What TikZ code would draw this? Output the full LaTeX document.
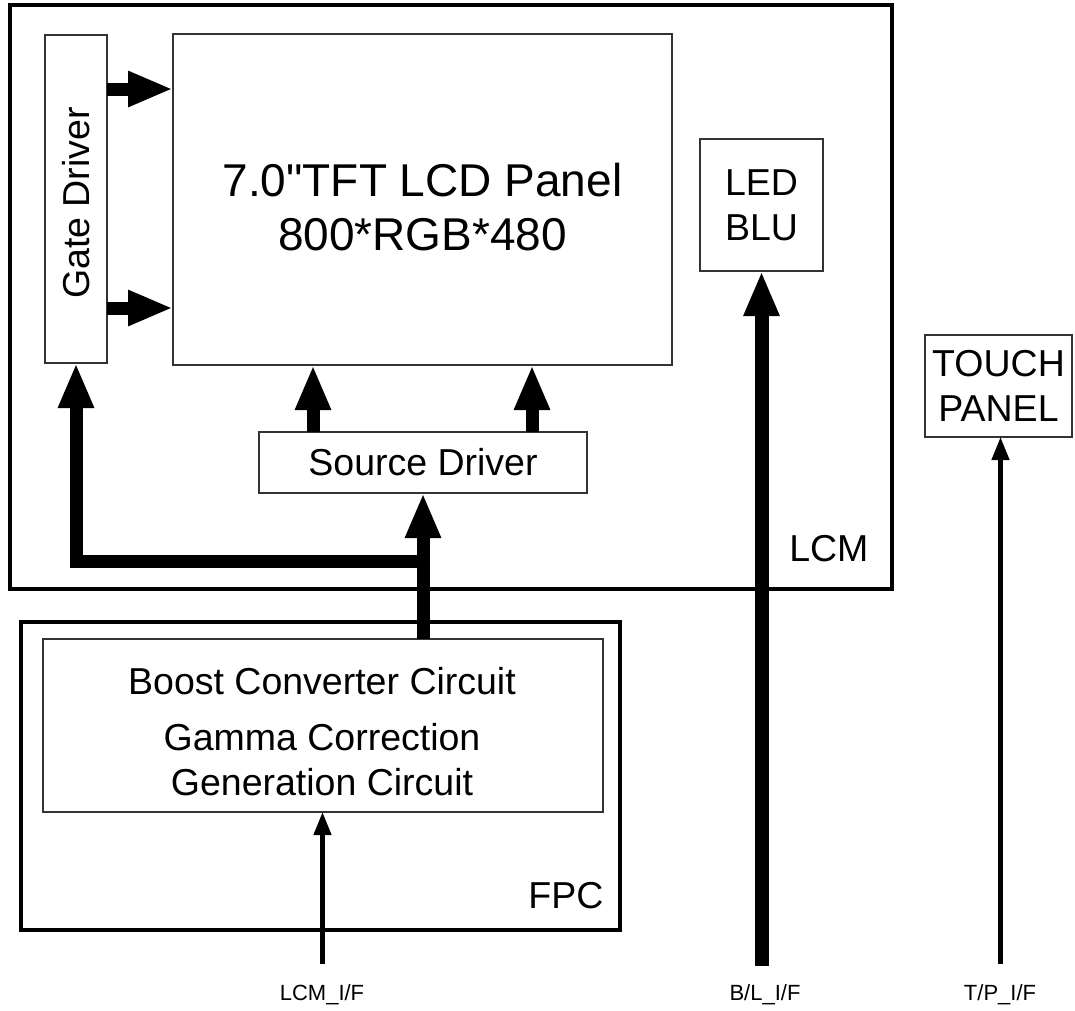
\documentclass[tikz,border=0pt]{standalone}
\usepackage{fontspec}
\setmainfont{Liberation Sans}[Ligatures=TeXOff]
\usetikzlibrary{arrows.meta,calc}
\begin{document}
\begin{tikzpicture}[x=1pt,y=-1pt,
  outerbox/.style={draw=black,line width=3.2pt},
  innerbox/.style={draw=black!80,line width=1.4pt,inner sep=0pt,outer sep=0pt},
  bigarrow/.style={line width=13pt,-{Triangle[length=45pt,width=33pt]}},
  thinarrow/.style={line width=4.5pt,-{Triangle[length=23pt,width=17pt]}},
  bigtext/.style={font=\fontsize{46}{54}\selectfont,align=center},
  midtext/.style={font=\fontsize{37.5}{45}\selectfont,align=center},
  smalltext/.style={font=\fontsize{22}{26}\selectfont}
]
\useasboundingbox (0,0) rectangle (1075,1010);
\fill[white] (0,0) rectangle (1075,1010);

% outer frames
\draw[outerbox] (10,5) rectangle (892,589);
\draw[outerbox] (21,622) rectangle (620,930);
\node[midtext,anchor=east] (lcmlab) at (872,549) {LCM};
\node[midtext,anchor=east] (fpclab) at (607,896) {FPC};

% boxes
\node[innerbox,minimum width=62pt,minimum height=328pt] (gd) at (76,199) {};
\node[midtext,rotate=90] (gdtext) at (76,203) {Gate Driver};
\node[innerbox,minimum width=499pt,minimum height=331pt] (panel) at (422.5,199.5) {};
\node[bigtext] (paneltext) at (422.5,207) {7.0"TFT LCD Panel\\800*RGB*480};
\node[innerbox,midtext,minimum width=328pt,minimum height=61pt] (sd) at (423,462.5) {Source Driver};
\node[innerbox,midtext,minimum width=123pt,minimum height=132pt] (blu) at (761.5,205) {LED\\BLU};
\node[innerbox,midtext,minimum width=147pt,minimum height=102pt] (tp) at (998.5,386) {TOUCH\\PANEL};
\node[innerbox,minimum width=560pt,minimum height=173pt] (boost) at (323,725.5) {};
\node[midtext] (boosttext) at (322,732) {Boost Converter Circuit\\[11pt]Gamma Correction\\Generation Circuit};

% interface labels
\node[smalltext] (lcmif) at (322,995) {LCM\_I/F};
\node[smalltext] (blif) at (765,995) {B/L\_I/F};
\node[smalltext] (tpif) at (1000,995) {T/P\_I/F};
\coordinate (lcmbot) at (322.5,964);
\coordinate (blbot) at (761.5,966);
\coordinate (tpbot) at (1000.5,964);
\coordinate (jn) at (423,561);

% gate driver -> panel
\draw[bigarrow] (gd.east |- 0,89) -- (panel.west |- 0,89);
\draw[bigarrow] (gd.east |- 0,308) -- (panel.west |- 0,308);
% source driver -> panel
\draw[bigarrow] (sd.north -| 313,0) -- (panel.south -| 313,0);
\draw[bigarrow] (sd.north -| 532,0) -- (panel.south -| 532,0);
% FPC -> source driver and gate driver
\draw[bigarrow] (boost.north -| sd.south) -- (sd.south);
\draw[bigarrow,line join=miter] (jn) -| (gd.south);
% backlight
\draw[bigarrow,line width=14pt] (blbot) -- (blu.south);
% thin interfaces
\draw[thinarrow] (lcmbot) -- (boost.south -| lcmbot);
\draw[thinarrow] (tpbot) -- (tp.south -| tpbot);
\end{tikzpicture}
\end{document}
